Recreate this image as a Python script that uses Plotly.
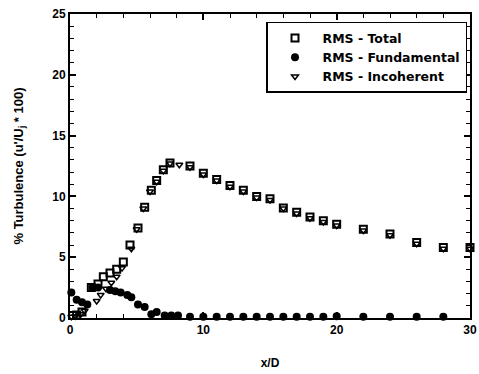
import plotly.graph_objects as go

# RMS - Total (open squares)
total_x = [0.2, 0.5, 0.9, 1.6, 2.1, 2.5, 3.0, 3.5, 4.0, 4.5, 5.1, 5.6, 6.1, 6.5, 7.0, 7.5,
           9.0, 10, 11, 12, 13, 14, 15, 16, 17, 18, 19, 20, 22, 24, 26, 28, 30]
total_y = [0.2, 0.25, 0.5, 2.5, 2.8, 3.4, 3.7, 4.0, 4.6, 6.0, 7.4, 9.1, 10.5, 11.3, 12.2, 12.75,
           12.5, 11.9, 11.4, 10.9, 10.5, 10.0, 9.8, 9.05, 8.7, 8.3, 8.0, 7.7, 7.3, 6.9, 6.2, 5.8, 5.8]

# RMS - Fundamental (filled circles)
fund_x = [0.1, 0.5, 0.9, 1.3, 1.7, 2.1, 3.0, 3.4, 3.8, 4.3, 4.6, 5.1, 5.6, 6.1, 6.5,
          7.1, 7.6, 8.1, 9, 10, 11, 12, 13, 14, 15, 16, 17, 18, 19, 20, 22, 24, 26, 28]
fund_y = [2.1, 1.5, 1.3, 1.1, 2.5, 2.5, 2.3, 2.2, 2.1, 1.9, 1.7, 1.1, 0.9, 0.3, 0.5,
          0.2, 0.2, 0.2, 0.1, 0.1, 0.1, 0.1, 0.1, 0.1, 0.1, 0.1, 0.1, 0.1, 0.1, 0.15, 0.1, 0.1, 0.1, 0.1]

# RMS - Incoherent (open down triangles)
inc_x = [0.1, 0.4, 0.8, 1.1, 2.0, 2.3, 2.7, 3.1, 3.5, 3.9, 4.6, 5.0, 5.5, 6.0, 6.5, 7.0, 7.5, 8.2,
         9.0, 10, 11, 12, 13, 14, 15, 16, 17, 18, 19, 20, 22, 24, 26, 28, 30]
inc_y = [0.1, 0.15, 0.3, 0.6, 1.4, 1.9, 2.4, 2.9, 3.4, 4.1, 5.7, 7.3, 9.0, 10.4, 11.2, 12.1, 12.7, 12.6,
         12.4, 11.8, 11.3, 10.8, 10.4, 9.9, 9.7, 9.0, 8.6, 8.2, 7.9, 7.6, 7.2, 6.8, 6.1, 5.7, 5.7]

FONT = "Liberation Sans, Arial, sans-serif"
LEGEND_FONT = "DejaVu Sans, Verdana, sans-serif"

fig = go.Figure()
fig.add_trace(go.Scatter(
    x=total_x, y=total_y, mode="markers", name="RMS - Total",
    marker=dict(symbol="square-open", size=7, color="black", line=dict(width=2, color="black")),
    cliponaxis=False))
fig.add_trace(go.Scatter(
    x=fund_x, y=fund_y, mode="markers", name="RMS - Fundamental",
    marker=dict(symbol="circle", size=8, color="black"),
    cliponaxis=False))
fig.add_trace(go.Scatter(
    x=inc_x, y=inc_y, mode="markers", name="RMS - Incoherent",
    marker=dict(symbol="triangle-down-open", size=6, color="black", line=dict(width=1.5, color="black")),
    cliponaxis=False))

axis_common = dict(
    showgrid=False, zeroline=False, showline=True, linecolor="black", linewidth=2,
    mirror="allticks", ticks="inside", ticklen=6, tickwidth=1.5, tickcolor="black",
    tickfont=dict(family=FONT, size=12, color="black", weight="bold"),
    automargin=False,
)

fig.update_xaxes(range=[0, 30], tick0=0, dtick=10,
                 minor=dict(ticks="inside", dtick=2, ticklen=4, tickcolor="black", tickwidth=1),
                 title=dict(text="x/D", font=dict(family=FONT, size=12, color="black", weight="bold"),
                            standoff=22),
                 **axis_common)
fig.update_yaxes(range=[0, 25], tick0=0, dtick=5,
                 minor=dict(ticks="inside", dtick=1, ticklen=4, tickcolor="black", tickwidth=1),
                 title=dict(text="% Turbulence (u'/U<sub>j</sub> * 100)",
                            font=dict(family=FONT, size=13, color="black", weight="bold"),
                            standoff=26),
                 **axis_common)

fig.update_layout(
    width=479, height=374,
    margin=dict(l=70, r=9, t=14, b=56),
    plot_bgcolor="white", paper_bgcolor="white",
    showlegend=True,
    legend=dict(
        x=0.9925, y=0.974, xanchor="right", yanchor="top",
        bgcolor="white", bordercolor="black", borderwidth=1.5,
        font=dict(family=LEGEND_FONT, size=12.5, color="black", weight="bold"),
        itemwidth=45, tracegroupgap=0,
    ),
)

fig.write_html("out.html")
